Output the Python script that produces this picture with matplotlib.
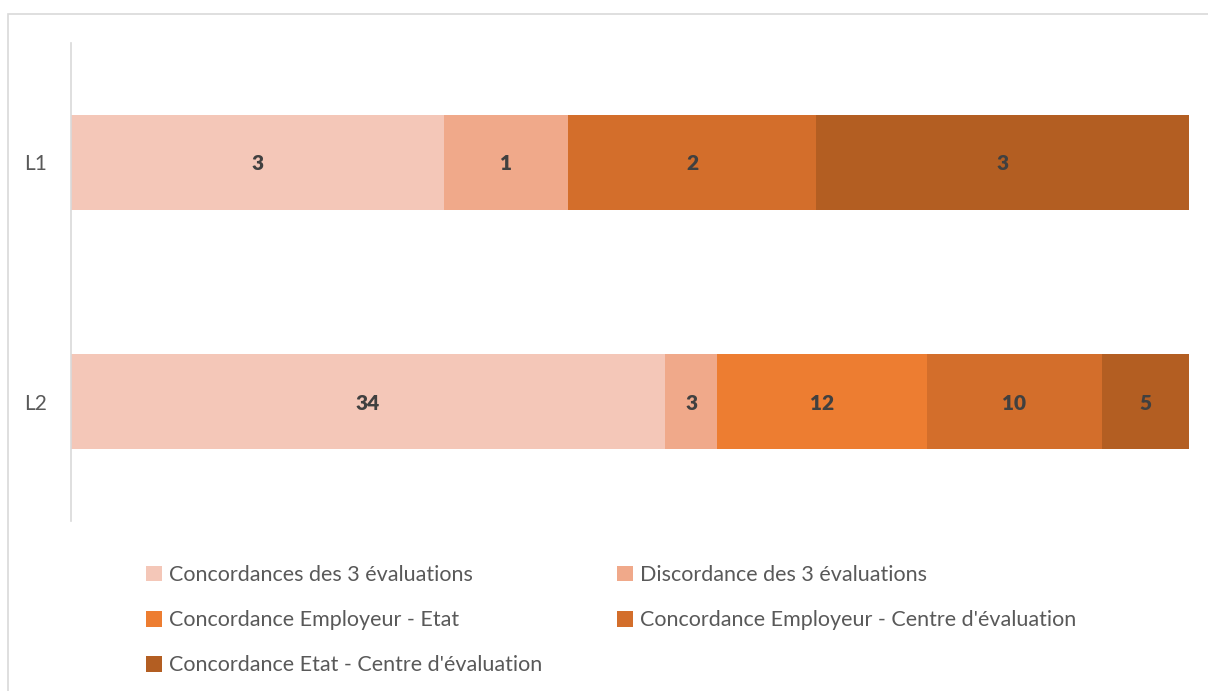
import matplotlib
matplotlib.use("Agg")
import matplotlib.pyplot as plt
from matplotlib.patches import Rectangle, Patch
import numpy as np

categories = ["L1", "L2"]
series_names = [
    "Concordances des 3 évaluations",
    "Discordance des 3 évaluations",
    "Concordance Employeur - Etat",
    "Concordance Employeur - Centre d'évaluation",
    "Concordance Etat - Centre d'évaluation",
]
values = {
    "Concordances des 3 évaluations": [3, 34],
    "Discordance des 3 évaluations": [1, 3],
    "Concordance Employeur - Etat": [0, 12],
    "Concordance Employeur - Centre d'évaluation": [2, 10],
    "Concordance Etat - Centre d'évaluation": [3, 5],
}
colors = ["#F4C7B8", "#F0A98A", "#ED7D31", "#D36E2B", "#B35E22"]

plt.rcParams['font.family'] = ['Lato', 'DejaVu Sans']

fig = plt.figure(figsize=(12.08, 6.91), dpi=100)
fig.patches.append(Rectangle((8/1208, -0.2), 1.2, 1.2 - 14/691, transform=fig.transFigure,
                             fill=False, edgecolor="#D9D9D9", lw=1.2))

ax = fig.add_axes([71/1208, 1 - 521/691, (1189 - 71)/1208, (521 - 43)/691])

y = np.arange(len(categories))
totals = np.sum([values[n] for n in series_names], axis=0).astype(float)
left = np.zeros(len(categories))
for name, c in zip(series_names, colors):
    v = np.array(values[name], dtype=float)
    frac = v / totals
    ax.barh(y, frac, left=left, height=0.4, color=c, edgecolor="none", label=name)
    for i in range(len(categories)):
        if v[i] > 0:
            ax.text(left[i] + frac[i] / 2, y[i], f"{int(v[i])}", ha="center", va="center_baseline",
                    fontsize=15, fontweight="heavy", color="#404040")
    left += frac

ax.set_xlim(0, 1)
ax.set_ylim(1.5, -0.5)
ax.set_yticks(y)
ax.set_yticklabels(categories, fontsize=15, color="#595959")
for t in ax.get_yticklabels():
    t.set_verticalalignment("center_baseline")
ax.tick_params(axis="y", length=0, pad=17)
ax.set_xticks([])
for s in ["top", "right", "bottom"]:
    ax.spines[s].set_visible(False)
ax.spines["left"].set_color("#D9D9D9")
ax.spines["left"].set_linewidth(1.2)

handles = [Patch(facecolor=c, edgecolor="none") for c in colors]

def make_legend(idx, xpix):
    leg = fig.legend([handles[i] for i in idx], [series_names[i] for i in idx],
                     ncol=1, loc="upper left", bbox_to_anchor=(xpix/1208, 1 - 565/691),
                     frameon=False, fontsize=15.5, handlelength=0.75, handleheight=0.75,
                     handletextpad=0.3, labelspacing=1.17,
                     borderaxespad=0, borderpad=0)
    for t in leg.get_texts():
        t.set_color("#595959")
    return leg

make_legend([0, 2, 4], 146)
make_legend([1, 3], 617)

fig.savefig("out.png", dpi=100)
